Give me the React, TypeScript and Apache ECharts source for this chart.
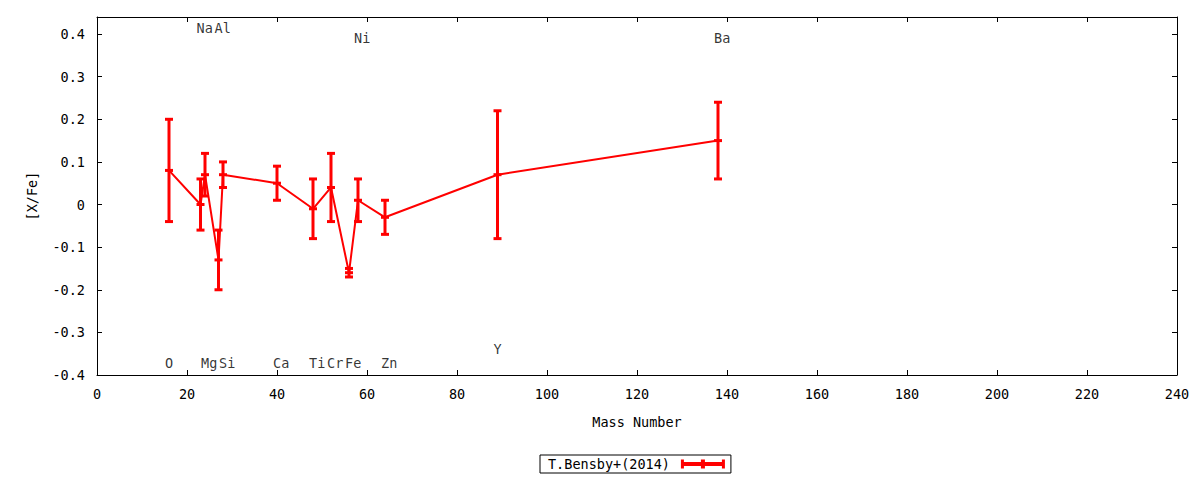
import React, { useEffect, useRef } from "react";
import * as echarts from "echarts";

const massNumbers = [16, 23, 24, 27, 28, 40, 48, 52, 56, 58, 64, 89, 138];
const xfeValues = [0.08, 0.0, 0.07, -0.13, 0.07, 0.05, -0.01, 0.04, -0.16, 0.01, -0.03, 0.07, 0.15];
const xfeErrors = [0.12, 0.06, 0.05, 0.07, 0.03, 0.04, 0.07, 0.08, 0.01, 0.05, 0.04, 0.15, 0.09];

const elementNames = ["O", "Na", "Mg", "Al", "Si", "Ca", "Ti", "Cr", "Fe", "Ni", "Zn", "Y", "Ba"];
const elementLabelY = [-0.372, 0.414, -0.372, 0.414, -0.372, -0.372, -0.372, -0.372, -0.372, 0.39, -0.372, -0.339, 0.39];

const seriesName = "T.Bensby+(2014)";
const FONT = "DejaVu Sans Mono";
const RED = "#ff0000";

const legendIcon =
  "path://M0,2.5 H44 V6.5 H0 Z M0,0 H3 V9 H0 Z M41,0 H44 V9 H41 Z M20,0 H24 V9 H20 Z";

export default function App() {
  const ref = useRef<HTMLDivElement>(null);

  useEffect(() => {
    if (!ref.current) return;
    const chart = echarts.init(ref.current, undefined, { renderer: "svg" });

    const lineData = massNumbers.map((m, i) => [m, xfeValues[i]]);
    const errData = massNumbers.map((m, i) => [
      m,
      xfeValues[i],
      xfeValues[i] - xfeErrors[i],
      xfeValues[i] + xfeErrors[i],
    ]);
    const labelData = elementNames.map((n, i) => ({
      value: [massNumbers[i], elementLabelY[i]],
      name: n,
    }));

    const axisText = { fontFamily: FONT, fontSize: 13.5, color: "#000" };
    const yFmt = (v: number) => {
      const r = Math.round(v * 10) / 10;
      return r === 0 ? "0" : r.toFixed(1);
    };

    chart.setOption({
      animation: false,
      backgroundColor: "#fff",
      grid: { left: 97, right: 23, top: 17, bottom: 105, show: false },
      legend: {
        show: true,
        data: [{ name: seriesName, icon: legendIcon }],
        left: 540,
        top: 455,
        align: "right",
        itemWidth: 44,
        itemHeight: 9,
        borderColor: "#000",
        borderWidth: 1,
        borderRadius: 0,
        padding: [2, 6, 2, 8],
        textStyle: { fontFamily: FONT, fontSize: 13.5, color: "#000", padding: [0, 6, 0, 0] },
        selectedMode: false,
      },
      xAxis: [
        {
          type: "value",
          min: 0,
          max: 240,
          interval: 20,
          position: "bottom",
          name: "Mass Number",
          nameLocation: "middle",
          nameGap: 40,
          nameTextStyle: axisText,
          axisLine: { show: true, onZero: false, lineStyle: { color: "#000", width: 1 } },
          axisTick: { show: true, inside: true, length: 5, lineStyle: { color: "#000" } },
          axisLabel: { ...axisText, margin: 12 },
          splitLine: { show: false },
        },
        {
          type: "value",
          min: 0,
          max: 240,
          interval: 20,
          position: "top",
          axisLine: { show: true, onZero: false, lineStyle: { color: "#000", width: 1 } },
          axisTick: { show: true, inside: true, length: 5, lineStyle: { color: "#000" } },
          axisLabel: { show: false },
          splitLine: { show: false },
        },
      ],
      yAxis: [
        {
          type: "value",
          min: -0.4,
          max: 0.44,
          interval: 0.1,
          position: "left",
          name: "[X/Fe]",
          nameLocation: "middle",
          nameGap: 58,
          nameRotate: 90,
          nameTextStyle: axisText,
          axisLine: { show: true, onZero: false, lineStyle: { color: "#000", width: 1 } },
          axisTick: { show: true, inside: true, length: 5, lineStyle: { color: "#000" } },
          axisLabel: { ...axisText, margin: 12, formatter: yFmt, showMaxLabel: false },
          splitLine: { show: false },
        },
        {
          type: "value",
          min: -0.4,
          max: 0.44,
          interval: 0.1,
          position: "right",
          axisLine: { show: true, onZero: false, lineStyle: { color: "#000", width: 1 } },
          axisTick: { show: true, inside: true, length: 5, lineStyle: { color: "#000" } },
          axisLabel: { show: false },
          splitLine: { show: false },
        },
      ],
      series: [
        {
          name: seriesName,
          type: "line",
          xAxisIndex: 0,
          yAxisIndex: 0,
          data: lineData,
          symbol: "none",
          lineStyle: { color: RED, width: 2 },
          itemStyle: { color: RED },
          z: 3,
        },
        {
          name: seriesName,
          type: "custom",
          xAxisIndex: 0,
          yAxisIndex: 0,
          data: errData,
          itemStyle: { color: RED },
          z: 4,
          renderItem: (params: any, api: any) => {
            const x = api.value(0);
            const c = api.coord([x, api.value(1)]);
            const lo = api.coord([x, api.value(2)]);
            const hi = api.coord([x, api.value(3)]);
            const capW = 8;
            const capH = 3;
            const style = { fill: RED, stroke: "none" };
            return {
              type: "group",
              children: [
                {
                  type: "line",
                  shape: { x1: c[0], y1: hi[1], x2: c[0], y2: lo[1] },
                  style: { stroke: RED, lineWidth: 3 },
                },
                { type: "rect", shape: { x: c[0] - capW / 2, y: hi[1] - capH / 2, width: capW, height: capH }, style },
                { type: "rect", shape: { x: c[0] - capW / 2, y: lo[1] - capH / 2, width: capW, height: capH }, style },
                { type: "rect", shape: { x: c[0] - capW / 2, y: c[1] - capH / 2, width: capW, height: capH }, style },
              ],
            };
          },
        },
        {
          name: "labels",
          type: "scatter",
          xAxisIndex: 0,
          yAxisIndex: 0,
          data: labelData,
          symbolSize: 0,
          itemStyle: { color: "transparent" },
          label: {
            show: true,
            position: "inside",
            align: "left",
            verticalAlign: "middle",
            offset: [-4, 0],
            formatter: (p: any) => p.name,
            fontFamily: FONT,
            fontSize: 13.5,
            color: "#000",
          },
          silent: true,
          z: 5,
        },
      ],
    });

    return () => chart.dispose();
  }, []);

  return (
    <div
      ref={ref}
      style={{ position: "absolute", left: 0, top: 0, width: 1200, height: 480, background: "#fff" }}
    />
  );
}
